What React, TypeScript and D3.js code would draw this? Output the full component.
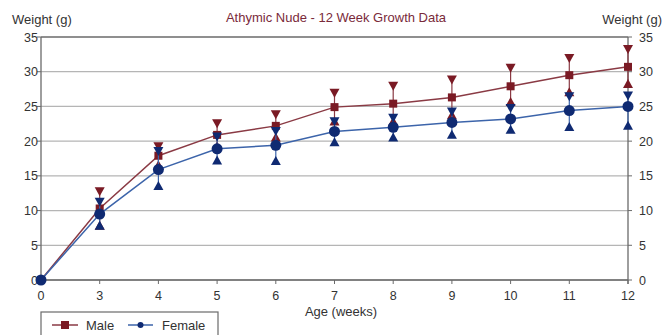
import React from "react";
import * as d3 from "d3";

// Age in weeks (evenly spaced categories on the x axis)
const ages = ["0", "3", "4", "5", "6", "7", "8", "9", "10", "11", "12"];

// Mean body weight (g)
const maleMean = [0, 10.3, 17.9, 20.9, 22.2, 24.9, 25.4, 26.3, 27.9, 29.5, 30.7];
const maleHigh = [0, 12.7, 19.2, 22.5, 23.8, 26.9, 27.9, 28.8, 30.5, 31.9, 33.2];
const maleLow = [0, 7.9, 16.6, 19.3, 20.6, 22.9, 22.9, 23.8, 25.7, 27.1, 28.3];

const femaleMean = [0, 9.5, 15.9, 18.9, 19.4, 21.4, 22.0, 22.7, 23.2, 24.4, 25.0];
const femaleHigh = [0, 11.2, 18.5, 20.6, 21.4, 22.8, 23.3, 24.2, 24.7, 26.4, 26.5];
const femaleLow = [0, 7.9, 13.6, 17.3, 17.2, 19.9, 20.6, 21.0, 21.7, 22.1, 22.3];

const yTicks = [0, 5, 10, 15, 20, 25, 30, 35];

const W = 667;
const H = 335;
const M = { left: 41, right: 628, top: 37, bottom: 280 };

const FONT = "'Liberation Sans', Arial, Helvetica, sans-serif";
const MALE = "#7a1a24";
const MALE_LINE = "#8a3a44";
const FEMALE = "#0f2a72";
const FEMALE_LINE = "#3c64aa";
const GRID = "#b5b5b5";
const AXIS = "#6a6a6a";
const TEXT = "#333333";
const TICK_FS = 12.5;
const LABEL_FS = 13;

const x = d3.scalePoint<string>().domain(ages).range([M.left, M.right]);
const y = d3.scaleLinear().domain([0, 35]).range([M.bottom, M.top]);

function tri(cx: number, cy: number, s: number, down: boolean) {
  const h = s * 0.9;
  if (down) {
    return `M${cx - s / 2},${cy - h / 2}L${cx + s / 2},${cy - h / 2}L${cx},${cy + h / 2}Z`;
  }
  return `M${cx - s / 2},${cy + h / 2}L${cx + s / 2},${cy + h / 2}L${cx},${cy - h / 2}Z`;
}

function Series({
  mean,
  hi,
  lo,
  color,
  lineColor,
  marker,
}: {
  mean: number[];
  hi: number[];
  lo: number[];
  color: string;
  lineColor: string;
  marker: "square" | "circle";
}) {
  const line = d3
    .line<number>()
    .x((_, i) => x(ages[i]) as number)
    .y((d) => y(d));
  return (
    <g>
      <path d={line(mean) || ""} fill="none" stroke={lineColor} strokeWidth={1.5} />
      {mean.map((m, i) => {
        const cx = x(ages[i]) as number;
        if (hi[i] === lo[i]) return null;
        return (
          <g key={"e" + i}>
            <line x1={cx} x2={cx} y1={y(hi[i])} y2={y(lo[i])} stroke={lineColor} strokeWidth={1.2} />
            <path d={tri(cx, y(hi[i]), 10, true)} fill={color} />
            <path d={tri(cx, y(lo[i]), 10, false)} fill={color} />
          </g>
        );
      })}
      {mean.map((m, i) => {
        const cx = x(ages[i]) as number;
        const cy = y(m);
        return marker === "square" ? (
          <rect key={"m" + i} x={cx - 4} y={cy - 4} width={8} height={8} fill={color} />
        ) : (
          <circle key={"m" + i} cx={cx} cy={cy} r={5.5} fill={color} />
        );
      })}
    </g>
  );
}

export default function App() {
  return (
    <svg width={W} height={H} style={{ position: "absolute", left: 0, top: 0, background: "#fff" }} fontFamily={FONT}>
      <rect x={0} y={0} width={W} height={H} fill="#fff" />
      {/* horizontal grid */}
      {yTicks.map((t) => (
        <line key={"g" + t} x1={M.left} x2={M.right} y1={y(t)} y2={y(t)} stroke={t === 35 ? AXIS : GRID} strokeWidth={1.3} />
      ))}
      {/* axes */}
      <line x1={M.left} x2={M.left} y1={M.top} y2={M.bottom} stroke={AXIS} strokeWidth={1.3} />
      <line x1={M.right} x2={M.right} y1={M.top} y2={M.bottom + 4} stroke={AXIS} strokeWidth={1.3} />
      <line x1={M.left} x2={M.right} y1={M.bottom} y2={M.bottom} stroke={AXIS} strokeWidth={1.3} />
      {yTicks.map((t) => (
        <g key={"yt" + t}>
          <line x1={M.left - 4} x2={M.left} y1={y(t)} y2={y(t)} stroke={AXIS} strokeWidth={1} />
          <line x1={M.right} x2={M.right + 4} y1={y(t)} y2={y(t)} stroke={AXIS} strokeWidth={1} />
          <text x={M.left - 3} y={y(t) + 4.5} textAnchor="end" fontSize={TICK_FS} fill={TEXT}>
            {t}
          </text>
          <text x={M.right + 11} y={y(t) + 4.5} textAnchor="start" fontSize={TICK_FS} fill={TEXT}>
            {t}
          </text>
        </g>
      ))}
      {ages.map((a) => (
        <g key={"xt" + a}>
          <line x1={x(a)} x2={x(a)} y1={M.bottom} y2={M.bottom + 4} stroke={AXIS} strokeWidth={1} />
          <text x={x(a)} y={M.bottom + 20} textAnchor="middle" fontSize={TICK_FS} fill={TEXT}>
            {a}
          </text>
        </g>
      ))}
      <text x={341} y={316} textAnchor="middle" fontSize={LABEL_FS} fill={TEXT}>
        Age (weeks)
      </text>
      <text x={12} y={24} fontSize={LABEL_FS} fill={TEXT}>
        Weight (g)
      </text>
      <text x={662} y={24} textAnchor="end" fontSize={LABEL_FS} fill={TEXT}>
        Weight (g)
      </text>
      <text x={336} y={22} textAnchor="middle" fontSize={LABEL_FS} fill="#7a2a3a">
        Athymic Nude - 12 Week Growth Data
      </text>

      {/* male drawn first so female markers sit on top */}
      <Series mean={maleMean} hi={maleHigh} lo={maleLow} color={MALE} lineColor={MALE_LINE} marker="square" />
      <Series mean={femaleMean} hi={femaleHigh} lo={femaleLow} color={FEMALE} lineColor={FEMALE_LINE} marker="circle" />

      {/* legend */}
      <rect x={41} y={312} width={177} height={30} fill="#fff" stroke={AXIS} strokeWidth={1.2} />
      <line x1={52} x2={78} y1={325} y2={325} stroke={MALE_LINE} strokeWidth={1.5} />
      <rect x={61} y={321} width={8} height={8} fill={MALE} />
      <text x={86} y={330} fontSize={LABEL_FS} fill={TEXT}>
        Male
      </text>
      <line x1={128} x2={153} y1={325} y2={325} stroke={FEMALE_LINE} strokeWidth={1.5} />
      <circle cx={140.5} cy={325} r={3} fill={FEMALE} />
      <text x={162} y={330} fontSize={LABEL_FS} fill={TEXT}>
        Female
      </text>
    </svg>
  );
}
